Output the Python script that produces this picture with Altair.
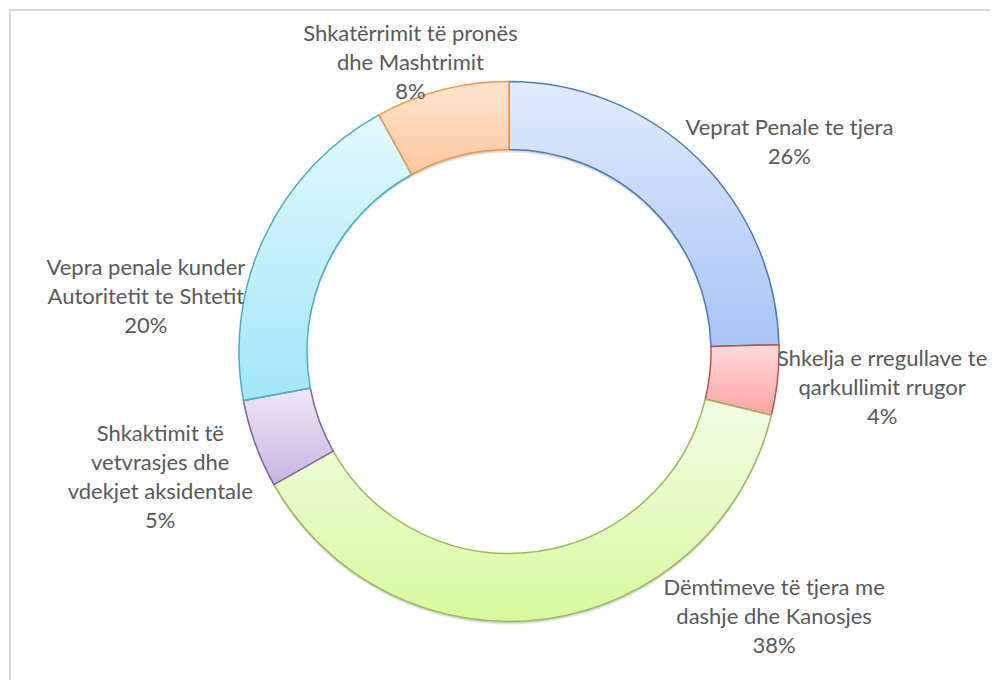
import altair as alt
import pandas as pd

# ---- data ----
categories = [
    "Veprat Penale te tjera",
    "Shkelja e rregullave te qarkullimit rrugor",
    "Dëmtimeve të tjera me dashje dhe Kanosjes",
    "Shkaktimit të vetvrasjes dhe vdekjet aksidentale",
    "Vepra penale kunder Autoritetit te Shtetit",
    "Shkatërrimit të pronës dhe Mashtrimit",
]
values = [24.6, 4.2, 38.0, 5.3, 19.9, 8.0]
label_lines = [
    "Veprat Penale te tjera",
    "Shkelja e rregullave te\nqarkullimit rrugor",
    "Dëmtimeve të tjera me\ndashje dhe Kanosjes",
    "Shkaktimit të\nvetvrasjes dhe\nvdekjet aksidentale",
    "Vepra penale kunder\nAutoritetit te Shtetit",
    "Shkatërrimit të pronës\ndhe Mashtrimit",
]
pct_labels = ["26%", "4%", "38%", "5%", "20%", "8%"]

# ---- table built from the lists ----
total = sum(values)
starts, ends = [], []
acc = 0.0
for v in values:
    starts.append(acc)
    acc += v
    ends.append(acc)
df = pd.DataFrame({
    "cat": categories,
    "value": values,
    "start": starts,
    "end": ends,
    "mid": [(s + e) / 2 for s, e in zip(starts, ends)],
    "label": [f"{a}\n{p}" for a, p in zip(label_lines, pct_labels)],
})

# ---- styling / layout ----
W, H = 982, 672
CX, CY = 501, 343.5
R_OUT, R_IN = 270, 202
fills = [
    ("#e1ebfd", "#a8c4f6"),
    ("#ffdada", "#ffa2a2"),
    ("#f4fde8", "#d6fa9c"),
    ("#eee7f7", "#c9b4e2"),
    ("#e3f9fe", "#a3e6fa"),
    ("#ffe4d0", "#fdc89e"),
]
strokes = ["#4a7ebb", "#c0504d", "#9bbb59", "#8064a2", "#4bacc6", "#f79646"]
label_offsets = [(57, 6), (55, -27), (221, -80), (-48, -27), (-74, 54), (-19, -8)]
LABEL_R = 320

theta_scale = alt.Scale(domain=[0, total])
base = alt.Chart(df)

layers = []
# soft shadow
for off, op in [(3, 0.10), (1.5, 0.12)]:
    layers.append(
        base.transform_aggregate(t="sum(value)")
        .mark_arc(innerRadius=R_IN, outerRadius=R_OUT, fill="#000000", opacity=op)
        .encode(
            theta=alt.Theta("t:Q", scale=alt.Scale(domain=[0, total])),
            x=alt.value(CX), y=alt.value(CY + off),
        )
    )

for i, name in enumerate(categories):
    top, bottom = fills[i]
    grad = alt.Gradient(
        gradient="linear",
        stops=[alt.GradientStop(color=top, offset=0), alt.GradientStop(color=bottom, offset=1)],
        x1=0, x2=0, y1=0, y2=1,
    )
    layers.append(
        base.transform_filter(alt.datum.cat == name)
        .mark_arc(innerRadius=R_IN, outerRadius=R_OUT, fill=grad,
                  stroke=strokes[i], strokeWidth=1.5)
        .encode(
            theta=alt.Theta("start:Q", scale=theta_scale),
            theta2="end:Q",
            x=alt.value(CX), y=alt.value(CY),
            tooltip=["cat:N", "value:Q"],
        )
    )

for i, name in enumerate(categories):
    dx, dy = label_offsets[i]
    layers.append(
        base.transform_filter(alt.datum.cat == name)
        .mark_text(font="Lato", fontSize=22, color="#595959", lineBreak="\n",
                   align="center", baseline="middle", lineHeight=29, dx=dx, dy=dy)
        .encode(
            theta=alt.Theta("mid:Q", scale=theta_scale),
            radius=alt.value(LABEL_R),
            text="label:N",
            x=alt.value(CX), y=alt.value(CY),
        )
    )

one = alt.Chart(pd.DataFrame({"a": [0]}))
layers.append(one.mark_rule(color="#d9d9d9", strokeWidth=2).encode(
    x=alt.value(1), x2=alt.value(W), y=alt.value(2)))
layers.append(one.mark_rule(color="#d9d9d9", strokeWidth=2).encode(
    x=alt.value(2), y=alt.value(1), y2=alt.value(H)))

chart = alt.layer(*layers).properties(
    width=W, height=H, padding=0, autosize="none", background="white"
).configure_view(stroke=None)

chart.save("out.html", embed_options={"renderer": "svg", "actions": False})
